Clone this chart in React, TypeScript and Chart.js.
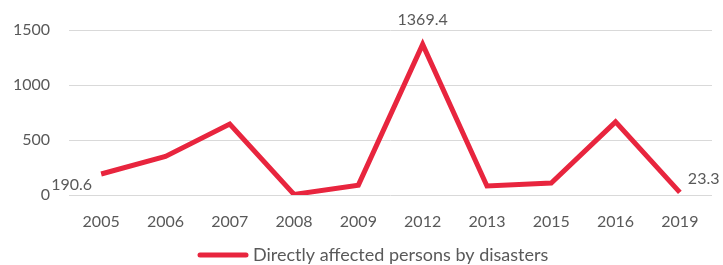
import React, { useEffect, useRef } from "react";
import { Chart, registerables } from "chart.js";

Chart.register(...registerables);

const categories = ["2005", "2006", "2007", "2008", "2009", "2012", "2013", "2015", "2016", "2019"];
const values = [190.6, 350, 645, 5, 90, 1369.4, 82, 108, 665, 23.3];
const labelledIndices = [0, 5, 9];
const seriesName = "Directly affected persons by disasters";
const yTicks = [0, 500, 1000, 1500];

const RED = "#E8253E";
const TEXT = "#595959";
const FONT = "Lato";

const labelPlugin = {
  id: "pointLabels",
  afterDatasetsDraw(chart: any) {
    const ctx = chart.ctx;
    const meta = chart.getDatasetMeta(0);
    ctx.save();
    ctx.font = `16px ${FONT}`;
    ctx.fillStyle = TEXT;
    ctx.textBaseline = "middle";
    labelledIndices.forEach((i) => {
      const pt = meta.data[i];
      const text = String(values[i]);
      if (i === 0) {
        ctx.textAlign = "right";
        ctx.fillText(text, pt.x - 9, pt.y + 11);
      } else if (i === categories.length - 1) {
        ctx.textAlign = "left";
        ctx.fillText(text, pt.x + 8, pt.y - 14);
      } else {
        ctx.textAlign = "center";
        ctx.fillText(text, pt.x, pt.y - 25);
      }
    });
    ctx.restore();
  },
};

const legendPlugin = {
  id: "customLegend",
  afterDraw(chart: any) {
    const ctx = chart.ctx;
    const y = chart.height - 10;
    const x0 = 198;
    ctx.save();
    ctx.strokeStyle = RED;
    ctx.lineWidth = 5;
    ctx.lineCap = "round";
    ctx.beginPath();
    ctx.moveTo(x0 + 2, y);
    ctx.lineTo(x0 + 48, y);
    ctx.stroke();
    ctx.font = `18px ${FONT}`;
    ctx.fillStyle = TEXT;
    ctx.textBaseline = "middle";
    ctx.textAlign = "left";
    ctx.fillText(seriesName, x0 + 55, y);
    ctx.restore();
  },
};

export default function App() {
  const ref = useRef<HTMLCanvasElement>(null);
  useEffect(() => {
    document.body.style.margin = "0";
    const chart = new Chart(ref.current!, {
      type: "line",
      data: {
        labels: categories,
        datasets: [
          {
            label: seriesName,
            data: values,
            borderColor: RED,
            backgroundColor: RED,
            borderWidth: 5,
            pointRadius: 0,
            tension: 0,
          },
        ],
      },
      options: {
        animation: false,
        responsive: false,
        layout: { padding: { top: 30, right: 11, left: 0, bottom: 0 } },
        plugins: {
          tooltip: { enabled: false },
          legend: { display: false },
        },
        scales: {
          x: {
            offset: true,
            afterFit: (s: any) => {
              s.height = 70;
            },
            grid: { display: false },
            border: { display: false },
            ticks: {
              font: { family: FONT, size: 16 },
              color: TEXT,
              padding: 9,
              maxRotation: 0,
              autoSkip: false,
            },
          },
          y: {
            min: 0,
            max: 1500,
            afterFit: (s: any) => {
              s.width = 69;
            },
            afterBuildTicks: (s: any) => {
              s.ticks = yTicks.map((v) => ({ value: v }));
            },
            grid: { color: "#D9D9D9", lineWidth: 1, drawTicks: false },
            border: { display: false },
            ticks: {
              font: { family: FONT, size: 16 },
              color: TEXT,
              padding: 19,
              callback: (v: any) => String(v),
            },
          },
        },
      },
      plugins: [labelPlugin, legendPlugin],
    });
    return () => chart.destroy();
  }, []);
  return <canvas ref={ref} width={723} height={265} style={{ display: "block" }} />;
}
